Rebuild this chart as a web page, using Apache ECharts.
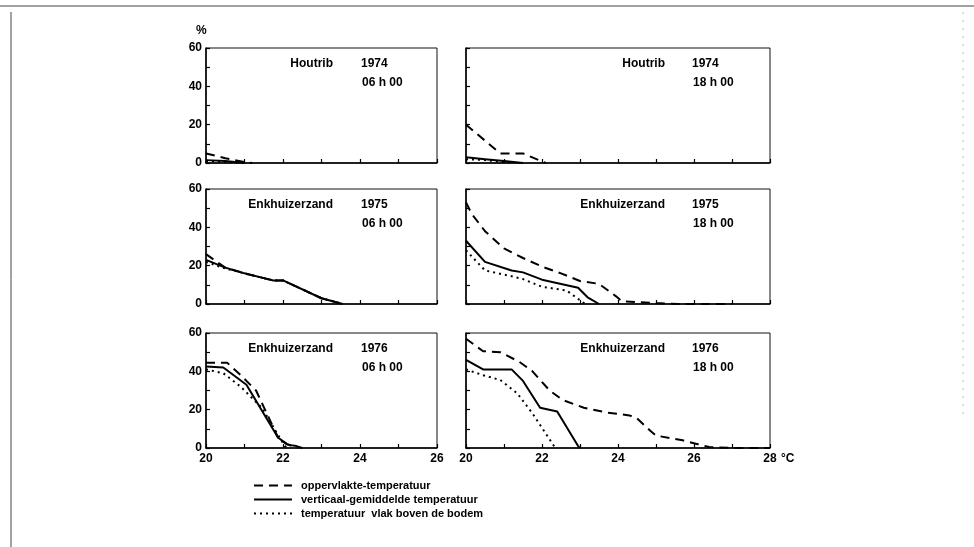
<!DOCTYPE html>
<html>
<head>
<meta charset="utf-8">
<script src="https://cdn.jsdelivr.net/npm/echarts@6/dist/echarts.min.js"></script>
<style>
  html, body { margin: 0; background: #fff; }
  #chart { width: 974px; height: 547px; }
</style>
</head>
<body>
<div id="chart"></div>
<script>
// namen van de drie lijnen
const lineNames = ["oppervlakte-temperatuur", "verticaal-gemiddelde temperatuur", "temperatuur  vlak boven de bodem"];

// panelen (links 06h00, rechts 18h00)
const places = ["Houtrib", "Houtrib", "Enkhuizerzand", "Enkhuizerzand", "Enkhuizerzand", "Enkhuizerzand"];
const years = ["1974", "1974", "1975", "1975", "1976", "1976"];
const hours = ["06 h 00", "18 h 00", "06 h 00", "18 h 00", "06 h 00", "18 h 00"];

// as-labels
const yTicks = [0, 20, 40, 60];
const xTicksLeft = [20, 22, 24, 26];
const xTicksRight = [20, 22, 24, 26, 28];

// Houtrib 1974 06h00
const h74_06_opp = [[20, 5], [20.5, 2.5], [21, 0.5], [21.2, 0]];
const h74_06_gem = [[20, 1.5], [20.5, 1], [21, 0]];
const h74_06_bod = [[20, 1], [20.6, 0.5], [21, 0]];
// Houtrib 1974 18h00
const h74_18_opp = [[20, 20], [20.9, 5], [21.5, 5], [22.1, 0]];
const h74_18_gem = [[20, 3], [20.5, 2], [21, 1], [21.5, 0]];
const h74_18_bod = [[20, 2], [20.5, 1.5], [21.2, 0]];
// Enkhuizerzand 1975 06h00
const e75_06_opp = [[20, 26], [20.5, 19], [21, 16], [21.5, 13.5], [21.75, 12.3], [22, 12.3], [23, 3], [23.55, 0]];
const e75_06_gem = [[20, 23], [20.5, 19], [21, 16], [21.5, 13.5], [21.75, 12.3], [22, 12.3], [23, 3], [23.55, 0]];
const e75_06_bod = [[20, 22], [20.5, 18.5], [21, 16], [21.5, 13.5], [21.75, 12.3], [22, 12.3], [23, 3], [23.55, 0]];
// Enkhuizerzand 1975 18h00
const e75_18_opp = [[20, 53], [20.15, 47], [20.5, 38], [21, 29], [21.5, 24], [22, 19.5], [22.5, 16], [23, 12], [23.5, 10.5], [23.95, 4], [24.1, 1.5], [24.5, 1], [25, 0.5], [25.6, 0], [27, 0]];
const e75_18_gem = [[20, 33], [20.5, 22], [21.2, 17.5], [21.5, 16.5], [22, 12.7], [22.95, 8.5], [23.2, 3.5], [23.5, 0]];
const e75_18_bod = [[20, 28], [20.5, 17.5], [21.2, 14.5], [21.5, 13], [22, 9], [22.65, 7], [23.1, 0.5], [23.2, 0]];
// Enkhuizerzand 1976 06h00
const e76_06_opp = [[20, 44.5], [20.55, 44.5], [20.9, 38], [21.3, 30], [21.87, 5.5], [22.1, 2], [22.4, 0]];
const e76_06_gem = [[20, 42.5], [20.45, 42], [21.05, 33], [21.87, 5.5], [22.1, 2], [22.2, 1.5], [22.35, 1], [22.5, 0]];
const e76_06_bod = [[20, 41], [20.45, 39], [20.9, 32], [21.45, 21], [21.85, 7.5], [22.05, 1], [22.1, 0]];
// Enkhuizerzand 1976 18h00
const e76_18_opp = [[20, 57], [20.45, 50.5], [20.9, 50], [21.4, 45], [21.75, 40], [22.2, 30], [22.55, 25], [23.1, 21], [23.7, 18.5], [24.3, 17], [24.5, 15.5], [24.85, 9], [25, 6.5], [25.7, 4], [26.1, 2], [26.4, 0.5], [27, 0], [28, 0]];
const e76_18_gem = [[20, 46], [20.45, 41], [21.2, 41], [21.5, 35], [21.95, 21], [22.4, 19], [22.95, 1], [23, 0]];
const e76_18_bod = [[20, 41], [20.45, 38], [20.9, 35.5], [21.35, 28.5], [21.75, 18], [22.1, 7.5], [22.35, 0]];

const panelData = [
  [h74_06_opp, h74_06_gem, h74_06_bod],
  [h74_18_opp, h74_18_gem, h74_18_bod],
  [e75_06_opp, e75_06_gem, e75_06_bod],
  [e75_18_opp, e75_18_gem, e75_18_bod],
  [e76_06_opp, e76_06_gem, e76_06_bod],
  [e76_18_opp, e76_18_gem, e76_18_bod]
];

const font = "Liberation Sans";
const tops = [48, 189, 333];
const panelH = 115;
const lefts = [206, 466];
const widths = [231, 304];

// lijnstijlen: gestreept, doorgetrokken, gestippeld
const styles = [
  { type: [9, 6], width: 2 },
  { type: "solid", width: 2 },
  { type: [2, 4], width: 2 }
];

var grids = [], xAxes = [], yAxes = [], series = [], graphics = [];

for (var i = 0; i < 6; i++) {
  var col = i % 2, row = Math.floor(i / 2);
  grids.push({
    left: lefts[col], top: tops[row], width: widths[col], height: panelH,
    show: true, borderColor: "#111", borderWidth: 1, backgroundColor: "transparent"
  });
  var xt = col === 0 ? xTicksLeft : xTicksRight;
  xAxes.push({
    type: "value", gridIndex: i, min: 20, max: col === 0 ? 26 : 28, interval: 1,
    axisLine: { lineStyle: { color: "#000", width: 1.5 } },
    axisTick: { inside: true, length: 4, lineStyle: { color: "#000", width: 1.2 } },
    splitLine: { show: false },
    axisLabel: {
      show: row === 2, margin: 5, color: "#000", fontFamily: font, fontSize: 12, fontWeight: "bold",
      formatter: function (v) { return xt.indexOf(v) >= 0 ? String(v) : ""; }
    }
  });
  yAxes.push({
    type: "value", gridIndex: i, min: 0, max: 60, interval: 10,
    axisLine: { show: true, lineStyle: { color: "#000", width: 1.5 } },
    axisTick: { show: true, inside: true, length: 4, lineStyle: { color: "#000", width: 1.2 } },
    splitLine: { show: false },
    axisLabel: {
      show: col === 0, margin: 4, color: "#000", fontFamily: font, fontSize: 12, fontWeight: "bold",
      formatter: function (v) { return yTicks.indexOf(v) >= 0 ? String(v) : ""; }
    }
  });
  for (var k = 0; k < 3; k++) {
    series.push({
      name: lineNames[k], type: "line", xAxisIndex: i, yAxisIndex: i,
      data: panelData[i][k], symbol: "none", silent: true, animation: false,
      lineStyle: Object.assign({ color: "#000" }, styles[k]),
      itemStyle: { color: "#000" }
    });
  }
  // tekst in het paneel
  var tStyle = { fill: "#000", font: "bold 12px '" + font + "'" };
  var nameRight = col === 0 ? 333 : 665;
  var yearLeft = col === 0 ? 361 : 692;
  graphics.push({ type: "text", x: nameRight, y: tops[row] + 10,
    style: Object.assign({ text: places[i], textAlign: "right" }, tStyle) });
  graphics.push({ type: "text", x: yearLeft, y: tops[row] + 10,
    style: Object.assign({ text: years[i] }, tStyle) });
  graphics.push({ type: "text", x: yearLeft + 1, y: tops[row] + 29,
    style: Object.assign({ text: hours[i] }, tStyle) });
}

graphics.push({ type: "text", x: 196, y: 25, style: { text: "%", fill: "#000", font: "bold 12px '" + font + "'" } });
graphics.push({ type: "text", x: 781, y: 453, style: { text: "°C", fill: "#000", font: "bold 12px '" + font + "'" } });
// kader van het blad
graphics.push({ type: "line", shape: { x1: 0, y1: 6, x2: 974, y2: 6 }, style: { stroke: "#444", lineWidth: 1 } });
graphics.push({ type: "line", shape: { x1: 11, y1: 12, x2: 11, y2: 547 }, style: { stroke: "#444", lineWidth: 1 } });
graphics.push({ type: "line", shape: { x1: 963, y1: 12, x2: 963, y2: 420 }, style: { stroke: "#bbb", lineWidth: 1, lineDash: [2, 6] } });

var chart = echarts.init(document.getElementById("chart"), null, { renderer: "canvas" });
chart.setOption({
  animation: false,
  backgroundColor: "#fff",
  grid: grids,
  xAxis: xAxes,
  yAxis: yAxes,
  series: series,
  graphic: graphics,
  legend: {
    data: lineNames, orient: "vertical", left: 248, top: 475,
    itemWidth: 38, itemHeight: 9, itemGap: 3, selectedMode: false,
    itemStyle: { opacity: 0 },
    textStyle: { color: "#000", fontFamily: font, fontSize: 11, fontWeight: "bold", lineHeight: 10, padding: [0, 0, 0, 4] }
  }
});
</script>
</body>
</html>
